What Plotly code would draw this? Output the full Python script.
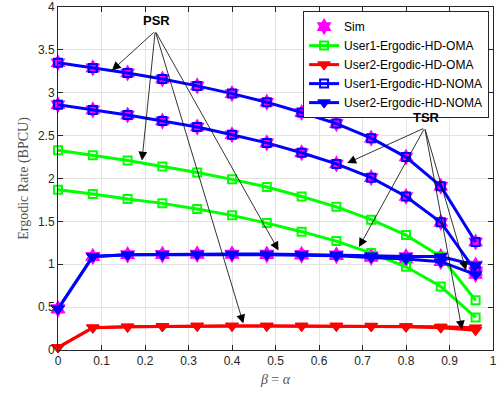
import plotly.graph_objects as go

x = [0, 0.08, 0.16, 0.24, 0.32, 0.40, 0.48, 0.56, 0.64, 0.72, 0.80, 0.88, 0.96]

u1_oma_psr = [2.33, 2.27, 2.21, 2.14, 2.07, 1.99, 1.90, 1.79, 1.67, 1.52, 1.34, 1.09, 0.58]
u1_oma_tsr = [1.87, 1.82, 1.76, 1.71, 1.645, 1.57, 1.48, 1.38, 1.27, 1.13, 0.97, 0.74, 0.38]
u2_oma_psr = [0.03, 0.26, 0.27, 0.275, 0.28, 0.28, 0.28, 0.28, 0.28, 0.28, 0.275, 0.27, 0.26]
u2_oma_tsr = [0.03, 0.26, 0.27, 0.275, 0.28, 0.28, 0.28, 0.28, 0.28, 0.275, 0.27, 0.26, 0.23]
u1_noma_psr = [3.35, 3.29, 3.23, 3.16, 3.08, 2.99, 2.89, 2.77, 2.64, 2.47, 2.25, 1.91, 1.26]
u1_noma_tsr = [2.86, 2.80, 2.74, 2.67, 2.60, 2.51, 2.415, 2.30, 2.17, 2.01, 1.79, 1.49, 0.92]
u2_noma_psr = [0.48, 1.09, 1.11, 1.115, 1.12, 1.12, 1.12, 1.115, 1.11, 1.10, 1.09, 1.09, 0.99]
u2_noma_tsr = [0.48, 1.09, 1.11, 1.11, 1.115, 1.115, 1.11, 1.105, 1.10, 1.08, 1.06, 1.03, 0.88]

x_ticks = [0, 0.1, 0.2, 0.3, 0.4, 0.5, 0.6, 0.7, 0.8, 0.9, 1]
x_ticklabels = ["0", "0.1", "0.2", "0.3", "0.4", "0.5", "0.6", "0.7", "0.8", "0.9", "1"]
y_ticks = [0, 0.5, 1, 1.5, 2, 2.5, 3, 3.5, 4]
y_ticklabels = ["0", "0.5", "1", "1.5", "2", "2.5", "3", "3.5", "4"]

# annotation anchors (data coordinates)
psr_text = (0.227, 3.84)
psr_tail = (0.2235, 3.72)
psr_tips = [(0.124, 3.26), (0.193, 2.21), (0.507, 1.16), (0.426, 0.31)]
tsr_text = (0.848, 2.71)
tsr_tail = (0.843, 2.59)
tsr_tips = [(0.665, 2.18), (0.692, 1.20), (0.938, 0.93), (0.9286, 0.24)]

fig = go.Figure()

# Sim markers on all NOMA curves
sim_x, sim_y = [], []
for s in [u1_noma_psr, u1_noma_tsr, u2_noma_psr, u2_noma_tsr]:
    sim_x += x + [None]
    sim_y += s + [None]
fig.add_trace(go.Scatter(x=sim_x, y=sim_y, mode="markers", name="Sim",
                         marker=dict(symbol="hexagram", size=13, color="#ff00ff",
                                     line=dict(width=0)),
                         cliponaxis=False))

def add(series, color, symbol, name, show, msize, mline):
    fig.add_trace(go.Scatter(x=x, y=series, mode="lines+markers", name=name,
                             showlegend=show, legendgroup=name,
                             line=dict(color=color, width=3),
                             marker=dict(symbol=symbol, size=msize, color=color,
                                         line=dict(color=color, width=mline)),
                             cliponaxis=False))

add(u1_oma_psr, "#00ff00", "square-open", "User1-Ergodic-HD-OMA", True, 8, 2)
add(u1_oma_tsr, "#00ff00", "square-open", "User1-Ergodic-HD-OMA", False, 8, 2)
add(u2_oma_psr, "#ff0000", "triangle-down", "User2-Ergodic-HD-OMA", True, 11, 1)
add(u2_oma_tsr, "#ff0000", "triangle-down", "User2-Ergodic-HD-OMA", False, 11, 1)
add(u1_noma_psr, "#0000ff", "square-open", "User1-Ergodic-HD-NOMA", True, 8, 2)
add(u1_noma_tsr, "#0000ff", "square-open", "User1-Ergodic-HD-NOMA", False, 8, 2)
add(u2_noma_psr, "#0000ff", "triangle-down", "User2-Ergodic-HD-NOMA", True, 11, 1)
add(u2_noma_tsr, "#0000ff", "triangle-down", "User2-Ergodic-HD-NOMA", False, 11, 1)

ann = []
for label, tpos, tail, tips in [("PSR", psr_text, psr_tail, psr_tips),
                                ("TSR", tsr_text, tsr_tail, tsr_tips)]:
    ann.append(dict(x=tpos[0], y=tpos[1], xref="x", yref="y", text="<b>%s</b>" % label,
                    showarrow=False, font=dict(family="Liberation Sans", size=13, color="#000")))
    for tip in tips:
        ann.append(dict(x=tip[0], y=tip[1], xref="x", yref="y", ax=tail[0], ay=tail[1],
                        axref="x", ayref="y", text="", showarrow=True, arrowhead=2,
                        arrowsize=2.2, arrowwidth=0.8, arrowcolor="#000", standoff=0,
                        startstandoff=0))

axis_common = dict(showline=True, linecolor="#262626", linewidth=1, mirror="ticks",
                   ticks="inside", ticklen=5, tickcolor="#262626", automargin=False,
                   showgrid=True, gridcolor="#e3e3e3", gridwidth=1, zeroline=False,
                   tickfont=dict(family="Liberation Sans", size=12, color="#262626"))

fig.update_layout(
    width=501, height=394,
    margin=dict(l=58, r=8, t=7, b=44),
    paper_bgcolor="white", plot_bgcolor="white",
    xaxis=dict(range=[0, 1], tickvals=x_ticks, ticktext=x_ticklabels,
               title=dict(text="<i>β</i> = <i>α</i>", standoff=6,
                          font=dict(family="Liberation Serif", size=14, color="#555")),
               **axis_common),
    yaxis=dict(range=[0, 4], tickvals=y_ticks, ticktext=y_ticklabels,
               title=dict(text="Ergodic Rate (BPCU)", standoff=6,
                          font=dict(family="Liberation Serif", size=14, color="#555")),
               **axis_common),
    legend=dict(x=0.991, y=0.988, xanchor="right", yanchor="top",
                bgcolor="white", bordercolor="#262626", borderwidth=1,
                font=dict(family="Liberation Sans", size=12, color="#000"),
                tracegroupgap=0, itemsizing="trace"),
    annotations=ann,
)

fig.write_html("out.html", config={"displayModeBar": False},
               post_script="document.body.style.margin='0';document.body.style.overflow='hidden';")
